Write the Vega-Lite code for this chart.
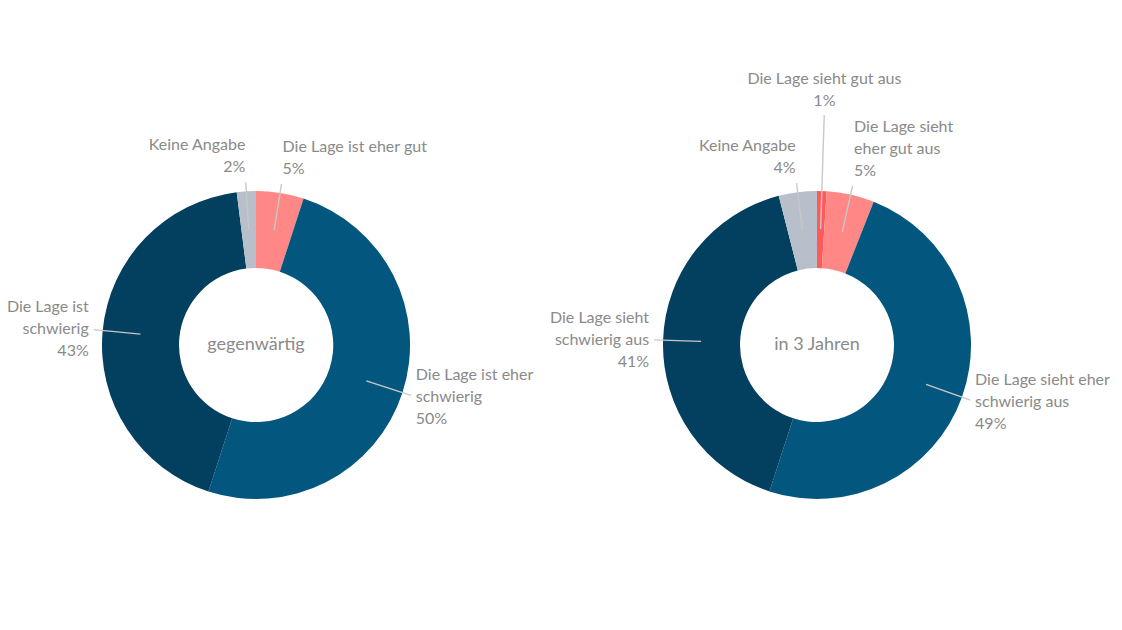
{
  "$schema": "https://vega.github.io/schema/vega-lite/v6.json",
  "background": "white",
  "padding": {"left": 0, "top": 60, "right": 0, "bottom": 0},
  "spacing": 0,
  "bounds": "flush",
  "config": {"view": {"stroke": null}, "font": "Lato"},
  "data": {"values": [
    {"period": "gegenwärtig", "cat": "eher gut", "label": "Die Lage ist eher gut", "value": 5, "rank": 2},
    {"period": "gegenwärtig", "cat": "eher schwierig", "label": "Die Lage ist eher schwierig", "value": 50, "rank": 3},
    {"period": "gegenwärtig", "cat": "schwierig", "label": "Die Lage ist schwierig", "value": 43, "rank": 4},
    {"period": "gegenwärtig", "cat": "keine Angabe", "label": "Keine Angabe", "value": 2, "rank": 5},
    {"period": "in 3 Jahren", "cat": "gut", "label": "Die Lage sieht gut aus", "value": 1, "rank": 1},
    {"period": "in 3 Jahren", "cat": "eher gut", "label": "Die Lage sieht eher gut aus", "value": 5, "rank": 2},
    {"period": "in 3 Jahren", "cat": "eher schwierig", "label": "Die Lage sieht eher schwierig aus", "value": 49, "rank": 3},
    {"period": "in 3 Jahren", "cat": "schwierig", "label": "Die Lage sieht schwierig aus", "value": 41, "rank": 4},
    {"period": "in 3 Jahren", "cat": "keine Angabe", "label": "Keine Angabe", "value": 4, "rank": 5}
  ]},
  "transform": [
    {"window": [{"op": "sum", "field": "value", "as": "cum"}], "groupby": ["period"], "sort": [{"field": "rank"}], "frame": [null, 0]},
    {"calculate": "datum.cum - datum.value", "as": "cum0"},
    {"calculate": "datum.cum - datum.value / 2", "as": "mid"},
    {"calculate": "replace(datum.label, regexp(' (eher gut aus|schwierig)'), '\\n$1') + '\\n' + datum.value + '%'", "as": "txt"},
    {"calculate": "length(split(datum.txt, '\\n')) - 1", "as": "nl"}
  ],
  "hconcat": [
    {
      "width": 512, "height": 570,
      "transform": [{"filter": "datum.period === 'gegenwärtig'"}],
      "layer": [
        {"mark": {"type": "arc", "innerRadius": 77, "outerRadius": 154},
         "encoding": {
           "theta": {"field": "cum0", "type": "quantitative", "scale": {"domain": [0, 100]}},
           "theta2": {"field": "cum"},
           "color": {"field": "cat", "type": "nominal", "scale": {"domain": ["gut", "eher gut", "eher schwierig", "schwierig", "keine Angabe"], "range": ["#FF5A5A", "#FF8886", "#03577F", "#033F5E", "#B7BFCA"]}, "legend": null}}},
        {"transform": [{"filter": "datum.value >= 2"}],
         "mark": {"type": "arc", "innerRadius": 116, "outerRadius": 163, "filled": false, "color": "#c8c8c8", "strokeWidth": 1.4},
         "encoding": {"theta": {"field": "mid", "type": "quantitative", "scale": {"domain": [0, 100]}}, "theta2": {"field": "mid"}}},
        {"transform": [{"filter": "datum.value < 2"}],
         "mark": {"type": "arc", "innerRadius": 116, "outerRadius": 230, "filled": false, "color": "#c8c8c8", "strokeWidth": 1.4},
         "encoding": {"theta": {"field": "mid", "type": "quantitative", "scale": {"domain": [0, 100]}}, "theta2": {"field": "mid"}}},
        {"transform": [{"filter": "datum.value >= 2 && datum.mid > 6 && datum.mid < 50"}],
         "mark": {"type": "text", "radius": 168, "align": "left", "baseline": "middle", "dy": {"expr": "-datum.nl * 11"}, "fontSize": 16, "lineHeight": 22, "lineBreak": "\n", "color": "#8a8a8a"},
         "encoding": {"theta": {"field": "mid", "type": "quantitative", "scale": {"domain": [0, 100]}}, "text": {"field": "txt"}}},
        {"transform": [{"filter": "datum.value >= 2 && datum.mid >= 50 && datum.mid < 94"}],
         "mark": {"type": "text", "radius": 168, "align": "right", "baseline": "middle", "dy": {"expr": "-datum.nl * 11"}, "fontSize": 16, "lineHeight": 22, "lineBreak": "\n", "color": "#8a8a8a"},
         "encoding": {"theta": {"field": "mid", "type": "quantitative", "scale": {"domain": [0, 100]}}, "text": {"field": "txt"}}},
        {"transform": [{"filter": "datum.value >= 2 && datum.mid <= 6"}],
         "mark": {"type": "text", "radius": 170, "align": "left", "baseline": "bottom", "dy": {"expr": "-datum.nl * 22"}, "fontSize": 16, "lineHeight": 22, "lineBreak": "\n", "color": "#8a8a8a"},
         "encoding": {"theta": {"field": "mid", "type": "quantitative", "scale": {"domain": [0, 100]}}, "text": {"field": "txt"}}},
        {"transform": [{"filter": "datum.value >= 2 && datum.mid >= 94"}],
         "mark": {"type": "text", "radius": 170, "align": "right", "baseline": "bottom", "dy": {"expr": "-datum.nl * 22"}, "fontSize": 16, "lineHeight": 22, "lineBreak": "\n", "color": "#8a8a8a"},
         "encoding": {"theta": {"field": "mid", "type": "quantitative", "scale": {"domain": [0, 100]}}, "text": {"field": "txt"}}},
        {"transform": [{"filter": "datum.value < 2"}],
         "mark": {"type": "text", "radius": 236, "align": "center", "baseline": "bottom", "dy": {"expr": "-datum.nl * 22"}, "fontSize": 16, "lineHeight": 22, "lineBreak": "\n", "color": "#8a8a8a"},
         "encoding": {"theta": {"field": "mid", "type": "quantitative", "scale": {"domain": [0, 100]}}, "text": {"field": "txt"}}},
        {"transform": [{"aggregate": [{"op": "count", "as": "n"}], "groupby": ["period"]}],
         "mark": {"type": "text", "fontSize": 18, "color": "#8a8a8a", "baseline": "middle", "align": "center"},
         "encoding": {"text": {"field": "period"}}}
      ]
    },
    {
      "width": 610, "height": 570,
      "transform": [{"filter": "datum.period === 'in 3 Jahren'"}],
      "layer": [
        {"mark": {"type": "arc", "innerRadius": 77, "outerRadius": 154},
         "encoding": {
           "theta": {"field": "cum0", "type": "quantitative", "scale": {"domain": [0, 100]}},
           "theta2": {"field": "cum"},
           "color": {"field": "cat", "type": "nominal", "scale": {"domain": ["gut", "eher gut", "eher schwierig", "schwierig", "keine Angabe"], "range": ["#FF5A5A", "#FF8886", "#03577F", "#033F5E", "#B7BFCA"]}, "legend": null}}},
        {"transform": [{"filter": "datum.value >= 2"}],
         "mark": {"type": "arc", "innerRadius": 116, "outerRadius": 163, "filled": false, "color": "#c8c8c8", "strokeWidth": 1.4},
         "encoding": {"theta": {"field": "mid", "type": "quantitative", "scale": {"domain": [0, 100]}}, "theta2": {"field": "mid"}}},
        {"transform": [{"filter": "datum.value < 2"}],
         "mark": {"type": "arc", "innerRadius": 116, "outerRadius": 230, "filled": false, "color": "#c8c8c8", "strokeWidth": 1.4},
         "encoding": {"theta": {"field": "mid", "type": "quantitative", "scale": {"domain": [0, 100]}}, "theta2": {"field": "mid"}}},
        {"transform": [{"filter": "datum.value >= 2 && datum.mid > 6 && datum.mid < 50"}],
         "mark": {"type": "text", "radius": 168, "align": "left", "baseline": "middle", "dy": {"expr": "-datum.nl * 11"}, "fontSize": 16, "lineHeight": 22, "lineBreak": "\n", "color": "#8a8a8a"},
         "encoding": {"theta": {"field": "mid", "type": "quantitative", "scale": {"domain": [0, 100]}}, "text": {"field": "txt"}}},
        {"transform": [{"filter": "datum.value >= 2 && datum.mid >= 50 && datum.mid < 94"}],
         "mark": {"type": "text", "radius": 168, "align": "right", "baseline": "middle", "dy": {"expr": "-datum.nl * 11"}, "fontSize": 16, "lineHeight": 22, "lineBreak": "\n", "color": "#8a8a8a"},
         "encoding": {"theta": {"field": "mid", "type": "quantitative", "scale": {"domain": [0, 100]}}, "text": {"field": "txt"}}},
        {"transform": [{"filter": "datum.value >= 2 && datum.mid <= 6"}],
         "mark": {"type": "text", "radius": 170, "align": "left", "baseline": "bottom", "dy": {"expr": "-datum.nl * 22"}, "fontSize": 16, "lineHeight": 22, "lineBreak": "\n", "color": "#8a8a8a"},
         "encoding": {"theta": {"field": "mid", "type": "quantitative", "scale": {"domain": [0, 100]}}, "text": {"field": "txt"}}},
        {"transform": [{"filter": "datum.value >= 2 && datum.mid >= 94"}],
         "mark": {"type": "text", "radius": 170, "align": "right", "baseline": "bottom", "dy": {"expr": "-datum.nl * 22"}, "fontSize": 16, "lineHeight": 22, "lineBreak": "\n", "color": "#8a8a8a"},
         "encoding": {"theta": {"field": "mid", "type": "quantitative", "scale": {"domain": [0, 100]}}, "text": {"field": "txt"}}},
        {"transform": [{"filter": "datum.value < 2"}],
         "mark": {"type": "text", "radius": 236, "align": "center", "baseline": "bottom", "dy": {"expr": "-datum.nl * 22"}, "fontSize": 16, "lineHeight": 22, "lineBreak": "\n", "color": "#8a8a8a"},
         "encoding": {"theta": {"field": "mid", "type": "quantitative", "scale": {"domain": [0, 100]}}, "text": {"field": "txt"}}},
        {"transform": [{"aggregate": [{"op": "count", "as": "n"}], "groupby": ["period"]}],
         "mark": {"type": "text", "fontSize": 18, "color": "#8a8a8a", "baseline": "middle", "align": "center"},
         "encoding": {"text": {"field": "period"}}}
      ]
    }
  ]
}
